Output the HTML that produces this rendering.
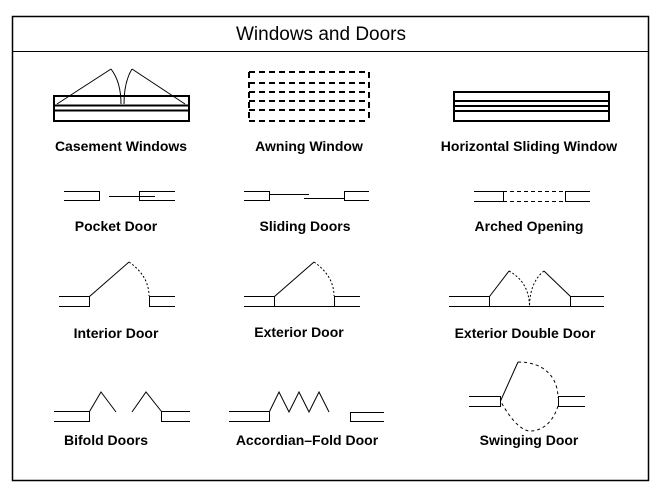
<!DOCTYPE html>
<html><head><meta charset="utf-8"><style>
html,body{margin:0;padding:0;background:#fff;}
svg{display:block;}
text{font-family:"Liberation Sans",Arial,sans-serif;font-weight:bold;fill:#000;}
</style></head><body>
<svg width="663" height="493" viewBox="0 0 663 493" xmlns="http://www.w3.org/2000/svg" fill="none" stroke="#000" stroke-width="1">
<rect x="12.5" y="16.5" width="636" height="464" stroke-width="1.5"/>
<line x1="12" y1="51.5" x2="649" y2="51.5"/>
<text x="321" y="40" font-size="19" text-anchor="middle" stroke="none" style="font-weight:normal">Windows and Doors</text>

<!-- Casement -->
<rect x="54" y="96" width="135" height="25" stroke-width="2"/>
<line x1="54" y1="105.5" x2="189" y2="105.5" stroke-width="2"/>
<line x1="54" y1="110.5" x2="189" y2="110.5" stroke-width="2"/>
<polyline points="57,104 111,69"/>
<polyline points="132,69 185,104"/>
<path d="M111,69 Q121,82 121,104"/>
<path d="M132,69 Q124,82 124,104"/>

<!-- Awning -->
<g stroke-width="2" stroke-dasharray="6,4">
<line x1="249" y1="72" x2="369" y2="72"/>
<line x1="249" y1="83" x2="369" y2="83"/>
<line x1="249" y1="92" x2="369" y2="92"/>
<line x1="249" y1="101" x2="369" y2="101"/>
<line x1="249" y1="110" x2="369" y2="110"/>
<line x1="249" y1="121" x2="369" y2="121"/>
<line x1="249" y1="72" x2="249" y2="121"/>
<line x1="369" y1="72" x2="369" y2="121"/>
</g>

<!-- Horizontal sliding -->
<rect x="454" y="92" width="155" height="29" stroke-width="2"/>
<line x1="454" y1="101" x2="609" y2="101" stroke-width="2"/>
<line x1="454" y1="106" x2="609" y2="106" stroke-width="2"/>
<line x1="454" y1="111" x2="609" y2="111" stroke-width="2"/>

<g stroke="none" font-size="14" text-anchor="middle">
<text x="121" y="151">Casement Windows</text>
<text x="309" y="151">Awning Window</text>
<text x="529" y="151">Horizontal Sliding Window</text>
<text x="116" y="231">Pocket Door</text>
<text x="305" y="231">Sliding Doors</text>
<text x="529" y="231">Arched Opening</text>
<text x="116" y="338">Interior Door</text>
<text x="299" y="337">Exterior Door</text>
<text x="525" y="338">Exterior Double Door</text>
<text x="106" y="445">Bifold Doors</text>
<text x="307" y="445">Accordian–Fold Door</text>
<text x="529" y="445">Swinging Door</text>
</g>

<!-- Pocket door -->
<polyline points="64,191.5 99.5,191.5 99.5,200.5 64,200.5"/>
<line x1="109" y1="196.5" x2="155" y2="196.5"/>
<polyline points="175,191.5 139.5,191.5 139.5,200.5 175,200.5"/>

<!-- Sliding doors -->
<polyline points="244,191.5 269.5,191.5 269.5,200.5 244,200.5"/>
<line x1="269" y1="194.5" x2="309" y2="194.5"/>
<line x1="304" y1="198.5" x2="344" y2="198.5"/>
<polyline points="369,191.5 344.5,191.5 344.5,200.5 369,200.5"/>

<!-- Arched opening -->
<polyline points="474,191.5 503.5,191.5 503.5,201.5 474,201.5"/>
<line x1="503" y1="191.5" x2="565" y2="191.5" stroke-dasharray="4,3"/>
<line x1="503" y1="201.5" x2="565" y2="201.5" stroke-dasharray="4,3"/>
<polyline points="590,191.5 565.5,191.5 565.5,201.5 590,201.5"/>

<!-- Interior door -->
<polyline points="59,296.5 89.5,296.5 89.5,306.5 59,306.5"/>
<line x1="89.5" y1="296.5" x2="129" y2="262"/>
<path d="M129,262 Q149,276 149,296" stroke-dasharray="2,2"/>
<polyline points="175,296.5 149.5,296.5 149.5,306.5 175,306.5"/>

<!-- Exterior door -->
<polyline points="244,296.5 274.5,296.5 274.5,306.5"/>
<line x1="244" y1="306.5" x2="360" y2="306.5"/>
<line x1="274.5" y1="296.5" x2="314" y2="262"/>
<path d="M314,262 Q334,276 334,296" stroke-dasharray="2,2"/>
<polyline points="360,296.5 334.5,296.5 334.5,306.5"/>

<!-- Exterior double -->
<polyline points="449,296.5 489.5,296.5 489.5,306.5"/>
<line x1="449" y1="306.5" x2="604" y2="306.5"/>
<line x1="489.5" y1="296.5" x2="509" y2="271"/>
<path d="M509,271 Q529,282 529.5,306" stroke-dasharray="2,2"/>
<path d="M544,271 Q530,282 529.5,306" stroke-dasharray="2,2"/>
<line x1="544" y1="271" x2="570.5" y2="296.5"/>
<polyline points="604,296.5 570.5,296.5 570.5,306.5"/>

<!-- Bifold -->
<polyline points="54,411.5 89.5,411.5 89.5,421.5 54,421.5"/>
<polyline points="89.5,411.5 101,392 116,412"/>
<polyline points="132,412 146,392 161.5,411.5"/>
<polyline points="190,411.5 161.5,411.5 161.5,421.5 190,421.5"/>

<!-- Accordion -->
<polyline points="229,411.5 269.5,411.5 269.5,421.5 229,421.5"/>
<polyline points="269.5,411.5 279,392 289,412 299,392 309,412 319,392 329,412"/>
<polyline points="384,412.5 350.5,412.5 350.5,421.5 384,421.5"/>

<!-- Swinging -->
<polyline points="469,396.5 500.5,396.5 500.5,406.5 469,406.5"/>
<line x1="500.5" y1="401" x2="518" y2="362"/>
<path d="M518,362 C545,362 558,378 558,398" stroke-dasharray="3,3"/>
<path d="M558,406 C552,425 540,431 530,431 C520,431 508,415 500.5,401" stroke-dasharray="3,3"/>
<polyline points="585,396.5 558.5,396.5 558.5,406.5 585,406.5"/>
</svg>
</body></html>
